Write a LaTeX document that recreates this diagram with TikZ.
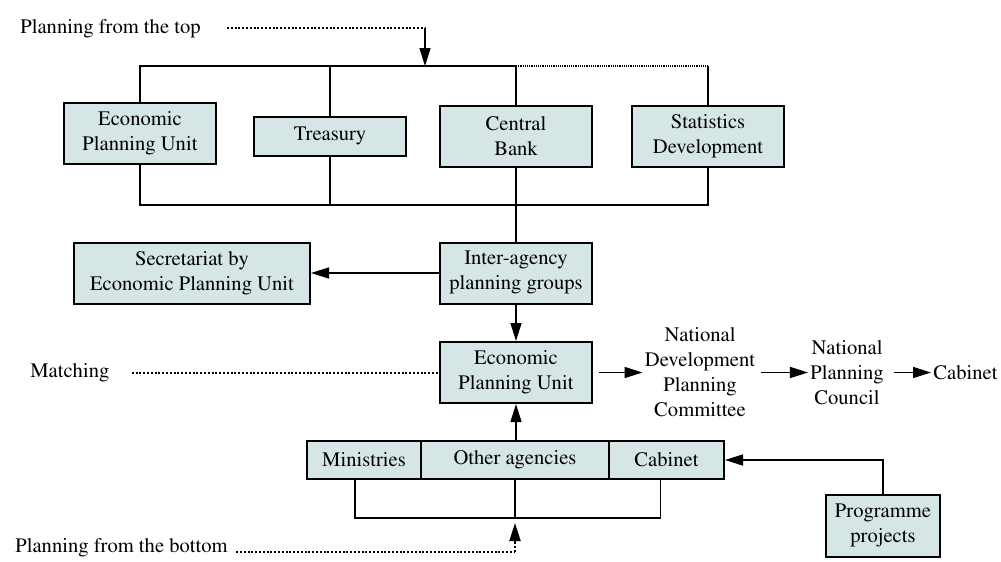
\documentclass[tikz,border=0pt]{standalone}
\usepackage[T1]{fontenc}
\usepackage{mathptmx}
\usetikzlibrary{positioning,arrows.meta}
\definecolor{boxfill}{RGB}{214,229,229}
\tikzset{
  unitbox/.style={draw, fill=boxfill, line width=1pt, align=center, inner sep=1pt,
    minimum width=76pt, minimum height=30.5pt},
  plain/.style={align=center, inner sep=1pt},
  conn/.style={line width=0.75pt},
  arr/.style={line width=0.75pt, -{Triangle[length=9pt,width=5.5pt]}},
  dotline/.style={line width=1pt, dash pattern=on 1pt off 0.9pt},
  dotthin/.style={line width=0.6pt, dash pattern=on 0.6pt off 0.5pt},
}
\begin{document}
\begin{tikzpicture}[x=0.5pt, y=-0.5pt, font=\fontsize{10.3}{12.5}\selectfont]
\useasboundingbox (0,0) rectangle (1001,562);
% top row
\node[unitbox] (epuA) at (140,133.5) {Economic\\Planning Unit};
\node[unitbox, minimum height=19.5pt] (treas) at (330,136.5) {Treasury};
\node[unitbox] (cbank) at (516,136.5) {Central\\Bank};
\node[unitbox] (stats) at (708,136.5) {Statistics\\Development};
% middle
\node[unitbox, minimum width=118pt] (secr) at (192,273.5) {Secretariat by\\Economic Planning Unit};
\node[unitbox] (inter) at (516,273) {Inter-agency\\planning groups};
\node[unitbox] (epuB) at (516,372.5) {Economic\\Planning Unit};
\node[plain] (ndpc) at (700,372.5) {National\\Development\\Planning\\Committee};
\node[plain] (npc) at (847,372.5) {National\\Planning\\Council};
\node[plain, anchor=west] (cabC) at (931,372.5) {Cabinet};
% bottom
\node[unitbox, minimum width=57pt, minimum height=19pt] (mins) at (364,460) {Ministries};
\node[unitbox, minimum width=94pt, minimum height=19pt, right=-1pt of mins] (oth) {Other agencies};
\node[unitbox, minimum width=57.5pt, minimum height=19pt, right=-1pt of oth] (cabB) {Cabinet};
\node[unitbox, minimum width=57pt, minimum height=31pt] (prog) at (883,526) {Programme\\projects};
% side labels
\node[plain, anchor=base west] (ptop) at (18,33) {Planning from the top};
\node[plain, anchor=west] (match) at (28,372.5) {Matching};
\node[plain, anchor=base west] (pbot) at (13,552) {Planning from the bottom};

% bus lines
\coordinate (tbus) at (0,66);
\coordinate (bbus) at (0,205);
\coordinate (tdrop) at (425,0);
\draw[conn] (epuA.north) |- (cbank.north |- tbus) -- (cbank.north);
\draw[conn] (treas.north) -- (treas.north |- tbus);
\draw[dotthin] (cbank.north |- tbus) -- (stats.north |- tbus);
\draw[conn] (stats.north |- tbus) -- (stats.north);
\draw[conn] (epuA.south) |- (stats.south |- bbus) -- (stats.south);
\draw[conn] (treas.south) -- (treas.south |- bbus);
\draw[conn] (cbank.south) -- (inter.north);

% arrows
\draw[arr] (inter.west) -- (inter.west -| secr.east);
\draw[arr] (inter.south) -- (epuB.north);
\draw[arr] (oth.north -| epuB.south) -- (epuB.south);
\draw[arr, shorten <=3pt] (epuB) -- (ndpc);
\draw[arr, shorten <=2pt] (ndpc) -- (npc);
\draw[arr, shorten <=4pt] (npc) -- (cabC);
\draw[arr] (prog.north) |- (cabB.east);

% bottom bus
\draw[conn] ([xshift=-4.5pt]mins.south) -- ++(0pt,-19pt) coordinate (bbot) -| ([xshift=-3pt]cabB.south);
\draw[conn] (oth.south) -- (oth.south |- bbot);

% dotted guides
\draw[dotline] ([xshift=12pt]ptop.east) -- (ptop.east -| tdrop) coordinate (tbend);
\draw[arr] (tbend) -- (tbend |- tbus);
\draw[dotline, shorten <=10pt] (match.east) -- (match.east -| epuB.west);
\draw[dotline] ([xshift=3pt]pbot.base east) -- (pbot.base east -| oth.south) coordinate (bbend);
\draw[dotline, -{Triangle[length=9pt,width=5.5pt]}] (bbend) -- ([yshift=-2.5pt]oth.south |- bbot);
\end{tikzpicture}
\end{document}
